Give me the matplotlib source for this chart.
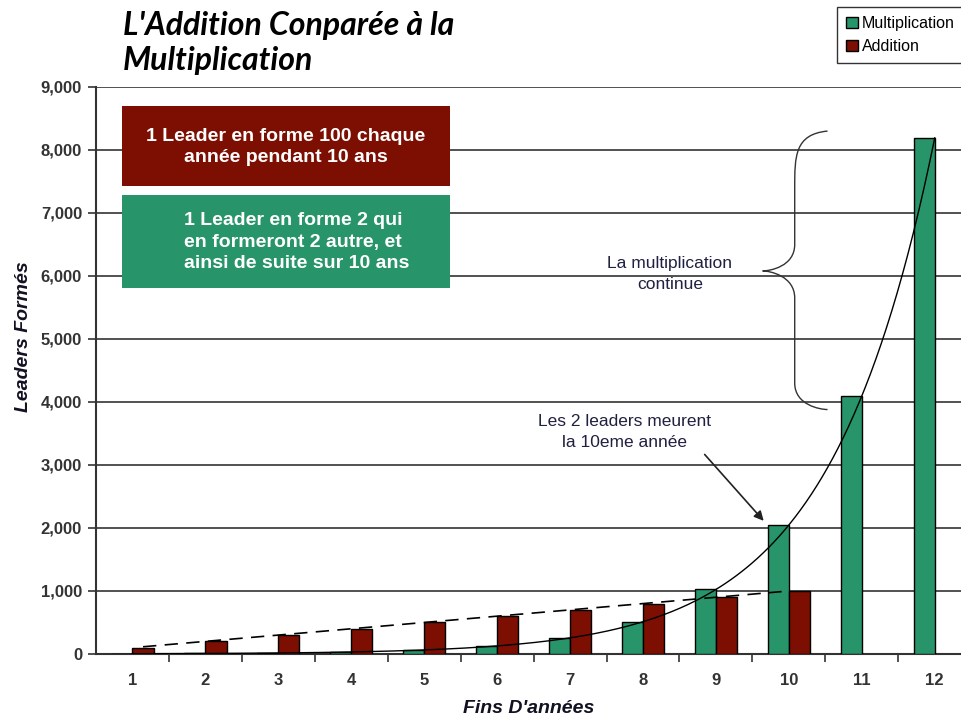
import numpy as np
import matplotlib.pyplot as plt
from matplotlib.path import Path
import matplotlib.patches as patches

# Data
years = [1, 2, 3, 4, 5, 6, 7, 8, 9, 10, 11, 12]
multiplication = [4, 8, 16, 32, 64, 128, 256, 512, 1024, 2048, 4096, 8192]
addition_years = [1, 2, 3, 4, 5, 6, 7, 8, 9, 10]
addition = [100, 200, 300, 400, 500, 600, 700, 800, 900, 1000]
yticks = [0, 1000, 2000, 3000, 4000, 5000, 6000, 7000, 8000, 9000]

green = "#27946A"
red = "#7D0E02"
w = 0.29

fig = plt.figure(figsize=(9.61, 7.17), dpi=100)
ax = fig.add_axes([0.0999, 0.0879, 0.9001, 0.7908])

x = np.array(years)
xa = np.array(addition_years)
ax.bar(x - w / 2, multiplication, w, color=green, edgecolor="black", linewidth=1, zorder=3, label="Multiplication")
ax.bar(xa + w / 2, addition, w, color=red, edgecolor="black", linewidth=1, zorder=3, label="Addition")

# exponential trendline on multiplication
k, b = np.polyfit(x, np.log(multiplication), 1)
xs = np.linspace(1, 12, 300)
ax.plot(xs, np.exp(b + k * xs), color="black", linewidth=1, zorder=4)

# linear trendline on addition (dashed)
k2, b2 = np.polyfit(xa, addition, 1)
xl = np.array([xa[0] + w / 2, xa[-1] - 0.1])
ax.plot(xl, b2 + k2 * xl, color="black", linewidth=1.2, linestyle=(0, (8, 5)), zorder=4)

ax.set_xlim(0.5, 12.36)
ax.set_ylim(0, 9000)
ax.set_yticks(yticks)
ax.set_yticklabels([f"{v:,}" for v in yticks])
ax.yaxis.grid(True, color="#333333", linewidth=1.2, zorder=0)
ax.set_axisbelow(True)
ax.set_xticks(years)
ax.set_xticklabels([str(y) for y in years])
ax.set_xticks(np.arange(1.5, 12.5, 1), minor=True)
ax.tick_params(axis="x", which="major", length=0, pad=14)
ax.tick_params(axis="x", which="minor", length=6, width=1.2, color="#333333")
ax.tick_params(axis="y", length=6, width=1.2, color="#333333", pad=4)
for lab in ax.get_xticklabels() + ax.get_yticklabels():
    lab.set_fontweight("bold")
    lab.set_fontsize(12)
    lab.set_color("#333333")
    lab.set_family("Liberation Sans")
for s in ["top", "right"]:
    ax.spines[s].set_visible(False)
for s in ["left", "bottom"]:
    ax.spines[s].set_color("#333333")
    ax.spines[s].set_linewidth(1.5)

ax.set_xlabel("Fins D'années", fontsize=14, fontweight="bold", style="italic",
              family="Liberation Sans", labelpad=8, color="#111122")
ax.set_ylabel("Leaders Formés", fontsize=14, fontweight="bold", style="italic",
              family="Liberation Sans", color="#111122")
ax.yaxis.set_label_coords(-0.074, 0.56)

# title
fig.text(0.128, 1 - 35 / 717, "L'Addition Conparée à la", fontsize=23,
         fontweight="bold", style="italic", family="Lato", ha="left", va="baseline")
fig.text(0.128, 1 - 70 / 717, "Multiplication", fontsize=23,
         fontweight="bold", style="italic", family="Lato", ha="left", va="baseline")

# legend
leg = fig.legend(loc="upper right", bbox_to_anchor=(1.003, 0.99), frameon=True,
                 fancybox=False, edgecolor="black", handlelength=0.75, handleheight=0.75,
                 handletextpad=0.25, borderpad=0.55, labelspacing=0.5, borderaxespad=0,
                 prop={"family": "Liberation Sans", "size": 11.5})
leg.get_frame().set_linewidth(1)

# text boxes
fig.patches.append(patches.Rectangle((122 / 961, 1 - 186 / 717), 328 / 961, 80 / 717,
                                     transform=fig.transFigure, facecolor=red,
                                     edgecolor="none", zorder=5))
fig.patches.append(patches.Rectangle((122 / 961, 1 - 288 / 717), 328 / 961, 93 / 717,
                                     transform=fig.transFigure, facecolor=green,
                                     edgecolor="none", zorder=5))
fig.text(286 / 961, 1 - 147 / 717, "1 Leader en forme 100 chaque\nannée pendant 10 ans",
         color="white", fontsize=14, fontweight="bold", family="Liberation Sans",
         ha="center", va="center", linespacing=1.35, zorder=6)
fig.text(297 / 961, 1 - 242 / 717, "1 Leader en forme 2 qui\nen formeront 2 autre, et\nainsi de suite sur 10 ans",
         color="white", fontsize=14, fontweight="bold", family="Liberation Sans",
         ha="center", va="center", multialignment="left", linespacing=1.35, zorder=6)

# brace
bx0, bx1, btip = 10.53, 10.08, 9.64
verts = [(bx0, 8300), (bx1, 8250), (bx1, 7900), (bx1, 7400),
         (bx1, 6800), (bx1, 6800), (bx1, 6500),
         (bx1, 6150), (btip + 0.1, 6080), (btip, 6080),
         (btip + 0.1, 6080), (bx1, 6000), (bx1, 5650),
         (bx1, 4500), (bx1, 4500), (bx1, 4300),
         (bx1, 3950), (bx0 - 0.1, 3880), (bx0, 3880)]
codes = [Path.MOVETO] + [Path.CURVE4] * 18
ax.add_patch(patches.PathPatch(Path(verts, codes), facecolor="none", edgecolor="#333333",
                               linewidth=1, zorder=5))
ax.text(8.37, 6030, "La multiplication\ncontinue", fontsize=12.5, family="Liberation Sans",
        color="#202040", ha="center", va="center", linespacing=1.45, zorder=6)

ax.text(7.74, 3524, "Les 2 leaders meurent\nla 10eme année", fontsize=12.5,
        family="Liberation Sans", color="#202040", ha="center", va="center",
        linespacing=1.45, zorder=6)
ax.annotate("", xy=(9.68, 2080), xytext=(8.82, 3200),
            arrowprops=dict(arrowstyle="-|>", color="#222222", lw=1.2, mutation_scale=14),
            zorder=6)

fig.savefig("out.png", dpi=100)
